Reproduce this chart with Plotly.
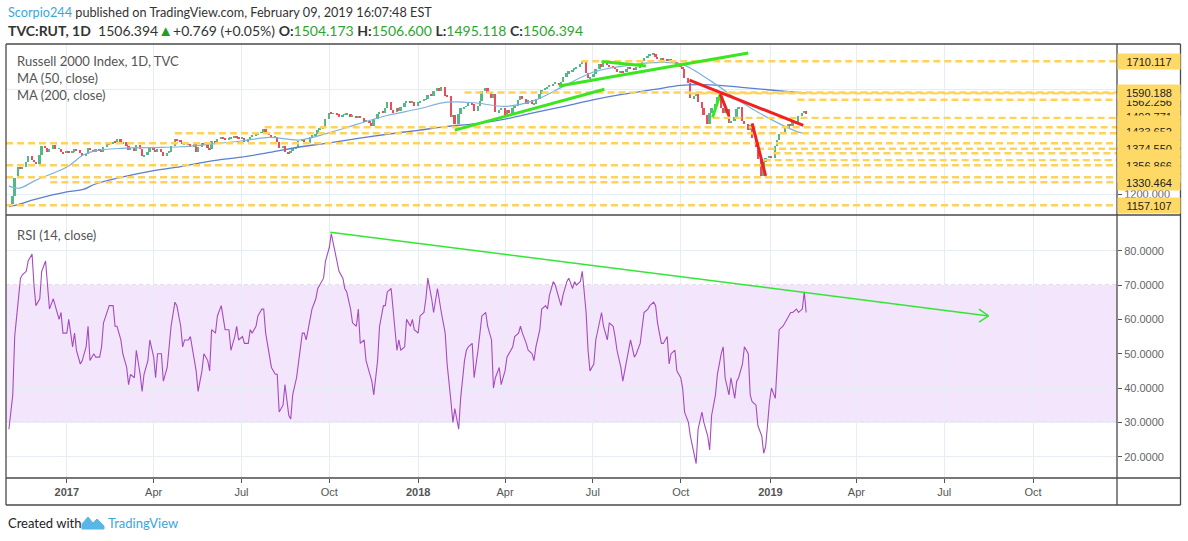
import pandas as pd
import plotly.graph_objects as go
from plotly.subplots import make_subplots

# ---------------- data ----------------
# closes every second business day, starting 2016-11-04
close_2016 = [1163, 1191, 1263, 1304, 1300, 1305, 1322, 1347, 1330, 1322,
              1316, 1352, 1385, 1376, 1362, 1372, 1388, 1374, 1375, 1360, 1357]
close_2017 = [1366, 1358, 1365, 1372, 1369, 1357, 1350, 1354, 1376, 1368, 1362,
              1372, 1366, 1362, 1382, 1395, 1392, 1402, 1400, 1412, 1396,
              1400, 1385, 1368, 1376, 1365, 1390, 1375, 1345, 1352, 1362, 1382,
              1370, 1360, 1372, 1362, 1346, 1358, 1362, 1386, 1412, 1405,
              1402, 1392, 1398, 1392, 1382, 1398, 1360, 1380, 1396, 1390, 1378, 1372,
              1406, 1398, 1412, 1418, 1412, 1410, 1414, 1416, 1420, 1418, 1415,
              1416, 1400, 1412, 1420, 1426, 1430, 1436, 1438, 1450, 1435,
              1428, 1418, 1420, 1402, 1378, 1385, 1362, 1357, 1365, 1376, 1380, 1405,
              1410, 1400, 1395, 1420, 1425, 1432, 1448, 1452, 1455, 1490,
              1512, 1508, 1510, 1506, 1500, 1504, 1506, 1508, 1498, 1500, 1496,
              1498, 1494, 1478, 1482, 1475, 1462, 1490, 1508, 1516, 1512, 1530,
              1555, 1522, 1515, 1530, 1520, 1535, 1550, 1556, 1552, 1554, 1540]
close_2018 = [1552, 1558, 1562, 1565, 1582, 1578, 1596, 1606, 1598, 1610, 1578,
              1575, 1495, 1505, 1470, 1508, 1530, 1535, 1538, 1550, 1545,
              1518, 1540, 1558, 1598, 1606, 1590, 1568, 1585, 1515, 1522, 1530,
              1505, 1525, 1510, 1532, 1540, 1562, 1575, 1565, 1548, 1560, 1545,
              1548, 1565, 1585, 1600, 1606, 1612, 1618, 1624, 1628, 1620, 1632,
              1648, 1665, 1672, 1678, 1684, 1690, 1700, 1708, 1665, 1645, 1650,
              1660, 1680, 1698, 1690, 1704, 1696, 1692, 1688, 1682, 1668, 1672,
              1668, 1680, 1688, 1682, 1678, 1688, 1692, 1710, 1724, 1732, 1738,
              1740, 1728, 1718, 1722, 1716, 1712, 1718, 1710, 1704, 1700,
              1690, 1682, 1645, 1625, 1568, 1575, 1585, 1555, 1530, 1505, 1470, 1512,
              1530, 1548, 1572, 1530, 1512, 1528, 1475, 1482, 1495, 1528, 1534,
              1482, 1470, 1445, 1465, 1415, 1382, 1335, 1268, 1325, 1340]
close_2019 = [1348, 1338, 1385, 1408, 1430, 1438, 1455, 1468, 1460, 1478, 1470, 1500,
              1512, 1520, 1506]
first_open = 1157

rsi_values = [28, 38, 55, 68, 72, 73, 74, 77, 79, 70,
              64, 66, 74, 77, 71, 63, 66, 64, 60, 62,
              56, 56, 60, 52, 56, 51, 47, 48, 52, 58,
              48, 50, 49, 49, 52, 59, 62, 64, 64, 58,
              58, 54, 50, 46, 41, 44, 43, 51, 44, 39,
              44, 48, 54, 49, 43, 50, 50, 42, 46, 52,
              58, 65, 64, 58, 52, 54, 54, 55, 48, 45,
              39, 45, 50, 48, 45, 57, 56, 61, 64, 61,
              57, 57, 51, 55, 58, 54, 55, 53, 53, 57,
              56, 58, 61, 63, 63, 56, 50, 46, 44, 44,
              33, 35, 41, 32, 31, 38, 43, 47, 56, 56,
              54, 60, 63, 66, 69, 70, 72, 77, 81, 85,
              82, 77, 74, 72, 69, 68, 63, 59, 58, 63,
              53, 54, 48, 44, 42, 38, 48, 58, 64, 64,
              68, 69, 63, 51, 54, 51, 52, 60, 58, 60,
              57, 56, 61, 62, 66, 72, 66, 62, 69, 65,
              62, 56, 47, 36, 30, 34, 28, 37, 48, 51,
              52, 53, 43, 51, 57, 61, 62, 58, 54, 40,
              43, 46, 41, 45, 49, 50, 52, 55, 56, 58,
              56, 53, 51, 50, 48, 52, 57, 63, 64, 63,
              67, 71, 70, 66, 64, 67, 71, 72, 69, 71,
              70, 71, 74, 62, 51, 45, 47, 54, 60, 62,
              58, 54, 59, 58, 55, 51, 46, 42, 48, 51,
              54, 49, 50, 53, 57, 62, 63, 64, 65, 64,
              59, 53, 53, 55, 47, 50, 51, 45, 43, 40,
              33, 30, 26, 21, 18, 28, 33, 30, 26, 22,
              32, 38, 44, 50, 52, 43, 38, 43, 37, 42,
              43, 47, 52, 50, 38, 36, 35, 29, 26, 21,
              23, 36, 40, 37, 49, 57, 58, 59, 61, 62,
              62, 63, 62, 63, 68, 62]

ma_dates = ["2016-11-04", "2016-11-15", "2016-12-01", "2017-01-03", "2017-01-20",
            "2017-02-01", "2017-03-01", "2017-04-03", "2017-05-01", "2017-06-01",
            "2017-07-03", "2017-08-01", "2017-09-01", "2017-10-02", "2017-11-01",
            "2017-12-01", "2018-01-02", "2018-02-01", "2018-03-01", "2018-04-02",
            "2018-05-01", "2018-06-01", "2018-07-02", "2018-08-01", "2018-09-04",
            "2018-10-01", "2018-11-01", "2018-12-03", "2019-01-02", "2019-02-01",
            "2019-02-08"]
ma50 = [1231, 1223, 1252, 1304, 1350, 1366, 1376, 1379, 1382, 1392, 1404, 1418,
        1408, 1436, 1470, 1502, 1527, 1553, 1551, 1537, 1558, 1613, 1668, 1691,
        1705, 1700, 1635, 1553, 1488, 1437, 1435]
ma200 = [1152, 1162, 1180, 1209, 1218, 1238, 1265, 1290, 1306, 1327, 1342, 1360,
         1381, 1397, 1414, 1430, 1445, 1460, 1470, 1488, 1512, 1536, 1562, 1583,
         1602, 1618, 1620, 1610, 1600, 1590, 1588]

level_values = [1710.117, 1590.188, 1586.9, 1562.256, 1492.771, 1456.7, 1433.652,
                1395.2, 1374.550, 1356.866, 1330.464, 1310.7, 1264.7, 1245.5, 1157.107]
level_starts = ["2018-06-20", "2018-02-19", "2018-10-10", "2019-01-30", "2018-11-03",
                "2017-07-27", "2017-04-25", "2016-11-01", "2018-12-19", "2019-01-05",
                "2018-12-26", "2016-11-01", "2016-11-01", "2016-12-17", "2016-11-01"]

# price-axis labels of the levels: text and where they sit on the axis (drawing order)
label_texts = ["1562.256", "1590.188", "1710.117", "1492.771", " ", "1433.652",
               " ", "1374.550", " ", "1356.866", " ", "1330.464", "1157.107"]
label_pos = [1557.7, 1592.2, 1710.1, 1498.1, 1471.3, 1440.5, 1409.8, 1376.0,
             1342.0, 1308.8, 1277.0, 1244.7, 1156.4]

quarter_ticks = ["2017-01-03", "2017-04-03", "2017-07-03", "2017-10-02", "2018-01-02",
                 "2018-04-02", "2018-07-02", "2018-10-01", "2019-01-02", "2019-04-01",
                 "2019-07-01", "2019-10-01"]
quarter_labels = ["<b>2017</b>", "Apr", "Jul", "Oct", "<b>2018</b>", "Apr", "Jul", "Oct",
                  "<b>2019</b>", "Apr", "Jul", "Oct"]

# user drawings: ((date, value), (date, value))
green_lines = [(("2018-02-09", 1446), ("2018-07-14", 1603)),
               (("2018-05-28", 1615), ("2018-12-10", 1742)),
               (("2018-07-11", 1709), ("2018-08-26", 1692)),
               (("2018-11-03", 1495), ("2018-11-11", 1584))]
red_lines = [(("2018-10-10", 1638), ("2019-02-05", 1464)),
             (("2018-11-11", 1584), ("2018-11-20", 1500)),
             (("2018-12-14", 1472), ("2018-12-28", 1270))]
rsi_trend = (("2017-10-03", 85.4), ("2019-08-16", 61.0))
rsi_arrow = [(("2019-08-06", 63.0), ("2019-08-16", 61.0)),
             (("2019-08-06", 59.2), ("2019-08-16", 61.0))]

# ---------------- styling ----------------
UP, DOWN = "#53b987", "#eb4d5c"
GRID = "#e6edf3"
BORDER = "#4a4a4a"
YEL = "#ffd35a"
W, H = 1188, 541
L_PX, R_PX, T_PX, B_PX = 6, 1117, 44, 478


def pxx(x):
    return (x - L_PX) / (R_PX - L_PX)


def pyy(y):
    return (B_PX - y) / (B_PX - T_PX)


closes = close_2016 + close_2017 + close_2018 + close_2019
dates = pd.bdate_range("2016-11-04", periods=len(closes), freq="2B")
opens = [first_open] + closes[:-1]
base = [min(o, c) for o, c in zip(opens, closes)]
height = [max(abs(c - o), 2.5) for o, c in zip(opens, closes)]
colors = [UP if c >= o else DOWN for o, c in zip(opens, closes)]

fig = make_subplots(rows=2, cols=1, shared_xaxes=True, vertical_spacing=0,
                    row_heights=[0.394, 0.606])

fig.add_trace(go.Bar(x=dates, y=height, base=base, width=1.9 * 86400000,
                     marker=dict(color=colors, line=dict(width=0)), hoverinfo="skip"),
              row=1, col=1)
fig.add_trace(go.Scatter(x=ma_dates, y=ma200, mode="lines",
                         line=dict(color="#5a7fd0", width=1.3, shape="spline")),
              row=1, col=1)
fig.add_trace(go.Scatter(x=ma_dates, y=ma50, mode="lines",
                         line=dict(color="#7fb2dc", width=1.2, shape="spline")),
              row=1, col=1)
fig.add_trace(go.Scatter(x=dates, y=rsi_values, mode="lines",
                         line=dict(color="#a54cc0", width=1.1)),
              row=2, col=1)

shapes = []
# RSI band
shapes.append(dict(type="rect", xref="x2 domain", yref="y2", x0=0, x1=1, y0=30, y1=70,
                   fillcolor="#f3e5fc", line=dict(width=0), layer="below"))
for v in (30, 70):
    shapes.append(dict(type="line", xref="x2 domain", yref="y2", x0=0, x1=1, y0=v, y1=v,
                       line=dict(color="#c9b6d6", width=1, dash="4px,3px"), layer="below"))
# horizontal levels
xr_end = "2019-12-27"
for v, s in zip(level_values, level_starts):
    shapes.append(dict(type="line", xref="x", yref="y", x0=s, x1=xr_end, y0=v, y1=v,
                       line=dict(color=YEL, width=2.4, dash="7px,4px")))
# drawings
for (a, b) in green_lines:
    shapes.append(dict(type="line", xref="x", yref="y", x0=a[0], y0=a[1], x1=b[0], y1=b[1],
                       line=dict(color="#3ae620", width=3)))
for (a, b) in red_lines:
    shapes.append(dict(type="line", xref="x", yref="y", x0=a[0], y0=a[1], x1=b[0], y1=b[1],
                       line=dict(color="#f22020", width=3)))
a, b = rsi_trend
shapes.append(dict(type="line", xref="x2", yref="y2", x0=a[0], y0=a[1], x1=b[0], y1=b[1],
                   line=dict(color="#33e633", width=1.5)))
for (a, b) in rsi_arrow:
    shapes.append(dict(type="line", xref="x2", yref="y2", x0=a[0], y0=a[1], x1=b[0], y1=b[1],
                       line=dict(color="#33e633", width=1.5)))


# frame
def pline(x0, y0, x1, y1, w=1.3):
    shapes.append(dict(type="line", xref="paper", yref="paper",
                       x0=pxx(x0), y0=pyy(y0), x1=pxx(x1), y1=pyy(y1),
                       line=dict(color=BORDER, width=w)))


pline(6, 44, 1180.5, 44)
pline(6, 44, 6, 505)
pline(1180.5, 44, 1180.5, 505)
pline(6, 505, 1180.5, 505)
pline(1117, 44, 1117, 505)
pline(6, 215, 1180.5, 215)
pline(6, 478, 1180.5, 478)

# TradingView logo (cloud)
logo = ("M {a},{b} L {c},{d} L {e},{f} L {g},{h} L {i},{j} L {k},{l} L {m},{n} Z").format(
    a=pxx(82), b=pyy(529), c=pxx(82), d=pyy(524), e=pxx(88), f=pyy(517),
    g=pxx(93), h=pyy(523), i=pxx(97), j=pyy(519), k=pxx(104), l=pyy(526),
    m=pxx(104), n=pyy(529))
shapes.append(dict(type="path", xref="paper", yref="paper", path=logo,
                   fillcolor="#58b7e6", line=dict(color="#58b7e6", width=1)))

annotations = []
TXT = "#333333"


def note(x, y, text, size=13, color=TXT, family="Lato", anchor="left"):
    annotations.append(dict(xref="paper", yref="paper", x=pxx(x), y=pyy(y), text=text,
                            showarrow=False, xanchor=anchor, yanchor="middle",
                            font=dict(family=family, size=size, color=color)))


G = "#2ea52e"
note(6, 12, "<span style='color:#3aa6de'>Scorpio244</span> published on TradingView.com, "
     "February 09, 2019 16:07:48 EST", size=12.7)
note(6, 30, "<b>TVC:RUT, 1D</b>  1506.394<span style='color:#1f9e1f;font-size:15px'>▲</span>"
     "+0.769 (+0.05%) "
     f"<b>O:</b><span style='color:{G}'>1504.173</span> "
     f"<b>H:</b><span style='color:{G}'>1506.600</span> "
     f"<b>L:</b><span style='color:{G}'>1495.118</span> "
     f"<b>C:</b><span style='color:{G}'>1506.394</span>", size=14)
note(15, 61, "Russell 2000 Index, 1D, TVC", color="#555555")
note(15, 78, "MA (50, close)", color="#555555")
note(15, 95, "MA (200, close)", color="#555555")
note(15, 235, "RSI (14, close)", color="#555555")
note(6, 523, "Created with", color="#222222")
note(106, 523, "TradingView", color="#3aa6de")

for t, p in zip(label_texts, label_pos):
    annotations.append(dict(xref="paper", yref="y", x=pxx(1149), y=p, text=t,
                            showarrow=False, xanchor="center", yanchor="middle",
                            width=59, height=12, borderpad=1.5, bgcolor="#ffd966",
                            font=dict(family="Liberation Sans", size=11, color="#222222")))

fig.update_layout(width=W, height=H, margin=dict(l=6, r=71, t=44, b=63),
                  plot_bgcolor="white", paper_bgcolor="white", showlegend=False,
                  barmode="overlay", bargap=0, shapes=shapes, annotations=annotations,
                  font=dict(family="Lato"))

fig.update_xaxes(range=["2016-11-01", xr_end], tickvals=quarter_ticks, showgrid=True,
                 gridcolor=GRID, gridwidth=1, zeroline=False, showline=False)
fig.update_xaxes(showticklabels=False, ticks="", row=1, col=1)
fig.update_xaxes(ticktext=quarter_labels, ticks="outside", ticklen=4, tickcolor="#555555",
                 tickfont=dict(family="Liberation Sans", size=11, color="#555555"),
                 row=2, col=1)
fig.update_yaxes(range=[1119.9, 1776.6], side="right", tickvals=[1200, 1600],
                 ticktext=["1200.000", "1600.000"], showgrid=True, gridcolor=GRID,
                 zeroline=False, ticks="outside", ticklen=4, tickcolor="#555555",
                 tickfont=dict(family="Liberation Sans", size=11, color="#666666"),
                 row=1, col=1)
fig.update_yaxes(range=[13.8, 90.4], side="right", tickvals=[20, 30, 40, 50, 60, 70, 80],
                 ticktext=["20.0000", "30.0000", "40.0000", "50.0000", "60.0000", "70.0000",
                           "80.0000"], showgrid=True, gridcolor=GRID, zeroline=False,
                 ticks="outside", ticklen=4, tickcolor="#555555",
                 tickfont=dict(family="Liberation Sans", size=11, color="#666666"),
                 row=2, col=1)

fig.write_html("out.html", config={"displayModeBar": False},
               post_script="document.body.style.margin='0';document.body.style.overflow='hidden';")
